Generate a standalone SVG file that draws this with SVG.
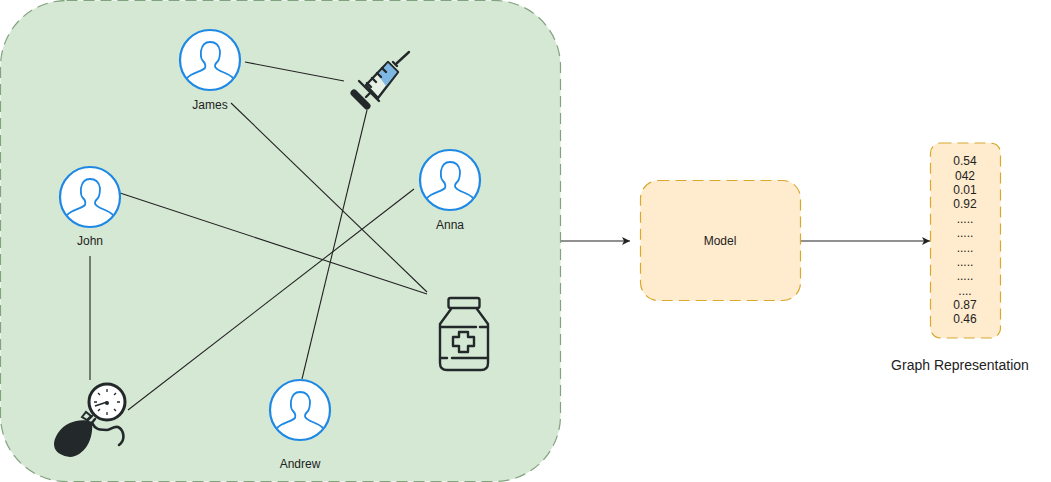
<svg xmlns="http://www.w3.org/2000/svg" width="1051" height="482" viewBox="0 0 1051 482">
<style>
.lbl{font-family:"Liberation Sans",Arial,sans-serif;font-size:12px;fill:#222;text-anchor:middle}
.c{fill:none;stroke:#222;stroke-width:1.1}
.ring{fill:#fff;stroke:#1e88e5;stroke-width:2.2}
.fig{fill:none;stroke:#1e88e5;stroke-width:1.8}
.ink{fill:none;stroke:#23282a;stroke-width:2.4;stroke-linejoin:round;stroke-linecap:round}
.box{fill:#ffebcd;stroke:#d9a92e;stroke-width:1.2;stroke-dasharray:11 6}
</style>
<defs>
<marker id="arr" markerWidth="9" markerHeight="8" refX="8" refY="4" orient="auto" markerUnits="userSpaceOnUse"><path d="M0 0L8 4L0 8L2 4Z" fill="#222"/></marker>
<g id="person">
<circle class="ring" cx="0" cy="0" r="30"/>
<path class="fig" d="M-23 18C-17 12-9 12-5 8C-4 5-5 3-7 1C-10-2-9-6-9-9C-8-15-5-18 0-18C6-18 9-15 10-9C10-5 10-2 8 1C5 4 4 6 6 8C9 12 17 12 23 18"/>
</g>
</defs>
<g id="panel"><rect x="0.500" y="0.500" width="560" height="481" rx="66" fill="#d5e8d4" stroke="#82a37f" stroke-width="1.2" stroke-dasharray="11 6"/></g>
<g id="connectors">
<path class="c" d="M245 62L344 81"/>
<path class="c" d="M231 103L427 292"/>
<path class="c" d="M120 193L427 294"/>
<path class="c" d="M414 189L128 410"/>
<path class="c" d="M367 110L302 379"/>
<path class="c" d="M90 256V380"/>
<path class="c" d="M561 241H630" marker-end="url(#arr)"/>
<path class="c" d="M801 241H930" marker-end="url(#arr)"/>
</g>
<g id="james"><use href="#person" x="210" y="60"/><text class="lbl" x="210" y="109">James</text></g>
<g id="john"><use href="#person" x="90" y="197"/><text class="lbl" x="90" y="245">John</text></g>
<g id="anna"><use href="#person" x="450" y="180"/><text class="lbl" x="450" y="229">Anna</text></g>
<g id="andrew"><use href="#person" x="300" y="410"/><text class="lbl" x="300" y="468">Andrew</text></g>
<g id="syringe">
<path d="M366 85L388 62L398 72L378 98Z" fill="#e6f0e4" stroke="#23282a" stroke-width="2.400" stroke-linejoin="round"/>
<path d="M378 75L388 63L397 72L386 86Z" fill="#7db7e3"/>
<path class="ink" d="M377 73L381 77M372 78L376 82M382 68L386 72M367 83L371 87"/>
<path class="ink" d="M359 81L379 101M393 62L397 66M397 63L409 52M366 97L371 92"/>
<path d="M354 93L367 106" stroke="#23282a" stroke-width="7" stroke-linecap="round"/>
</g>
<g id="bottle">
<rect class="ink" x="448.500" y="298" width="31" height="10" rx="2"/>
<path class="ink" d="M451 309L440 324V363Q440 370 447 370H481Q488 370 488 363V324L477 309"/>
<path class="ink" d="M440 327H476M480 327H488M440 358H447M452 358H488"/>
<path class="ink" d="M459 332H468V337H474V346H468V352H459V346H453V337H459Z"/>
</g>
<g id="gauge">
<circle cx="107" cy="402" r="18" fill="#fff" stroke="#23282a" stroke-width="3"/>
<path d="M107 389v3M107 412v3M94 402h3M117 402h3M98 393l2 2M114 409l2 2M116 393l-2 2M98 411l2-2" stroke="#23282a" stroke-width="1.300"/>
<path d="M95 406L107 402" stroke="#23282a" stroke-width="1.500"/><circle cx="107" cy="403" r="2" fill="#23282a"/>
<path class="ink" d="M92 423C97 432 102 429 107 430C111 430 113 426 118 427C124 430 126 440 119 445" style="stroke-width:2.600"/>
<path d="M92 422C84 418 66 420 58 433C50 445 54 455 70 457C84 456 94 440 92 422Z" fill="#23282a"/>
<path d="M82 417L86 412L91 416L87 420Z" fill="none" stroke="#23282a" stroke-width="2"/>
<path class="ink" d="M88 420L92 416M91 424L95 419"/>
</g>
<g id="model"><rect class="box" x="640.500" y="180.500" width="160" height="120" rx="18"/><text class="lbl" x="720" y="245">Model</text></g>
<g id="embedding"><rect class="box" x="930.500" y="143" width="70" height="195" rx="10"/>
<text class="lbl" x="965" y="165">0.54</text><text class="lbl" x="965" y="180">042</text><text class="lbl" x="965" y="194">0.01</text><text class="lbl" x="965" y="208">0.92</text><text class="lbl" x="965" y="223">.....</text><text class="lbl" x="965" y="237">.....</text><text class="lbl" x="965" y="252">.....</text><text class="lbl" x="965" y="266">.....</text><text class="lbl" x="965" y="280">.....</text><text class="lbl" x="965" y="295">....</text><text class="lbl" x="965" y="309">0.87</text><text class="lbl" x="965" y="323">0.46</text>
</g>
<text id="caption" class="lbl" x="960" y="370" style="font-size:14px">Graph Representation</text>
</svg>
